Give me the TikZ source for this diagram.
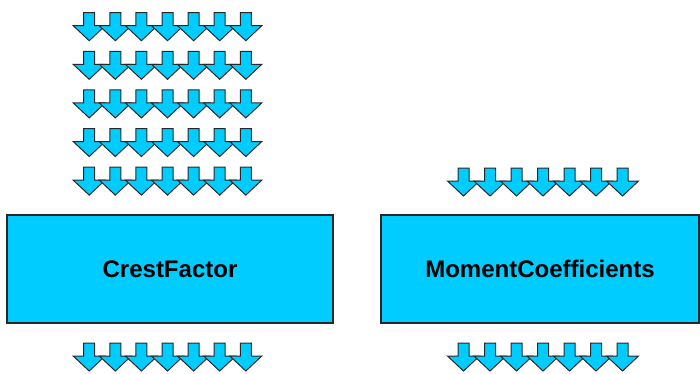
\documentclass[tikz,border=0pt]{standalone}
\usepackage{fontspec}
\setmainfont{Liberation Sans}
\usetikzlibrary{calc}

\definecolor{boxcyan}{RGB}{0,204,255}
\definecolor{edgegray}{RGB}{40,40,40}

\tikzset{
  downarrow/.pic={
    \draw[edgegray, fill=boxcyan, line width=1, line join=miter]
      (-5.5,0) -- (5.5,0) -- (5.5,13) -- (16,13) -- (0,28) -- (-16,13) -- (-5.5,13) -- cycle;
  },
  blockbox/.style={draw=edgegray, fill=boxcyan, line width=1.2, minimum width=326, minimum height=108,
    inner sep=0pt, font=\bfseries\fontsize{24}{28}\selectfont}
}

\begin{document}
\begin{tikzpicture}[x=1pt, y=-1pt]
\useasboundingbox (0,0) rectangle (700,373);

\node[blockbox] (crest) at (170,269) {CrestFactor};
\node[blockbox, minimum width=318] (moment) at (540,269) {MomentCoefficients};

% input rows over the left block
\foreach \r in {0,...,4}
  \foreach \k in {0,...,6}
    \pic at ($(89.2,12.7) + \k*(26.1,0) + \r*(0,38.6)$) {downarrow};

% input row over the right block
\foreach \k in {0,...,6}
  \pic at ($(463.5,168) + \k*(26.5,0)$) {downarrow};

% output rows under both blocks
\foreach \k in {0,...,6} {
  \pic at ($(89.2,343) + \k*(26.1,0)$) {downarrow};
  \pic at ($(463.5,343) + \k*(26.5,0)$) {downarrow};
}

\end{tikzpicture}
\end{document}
